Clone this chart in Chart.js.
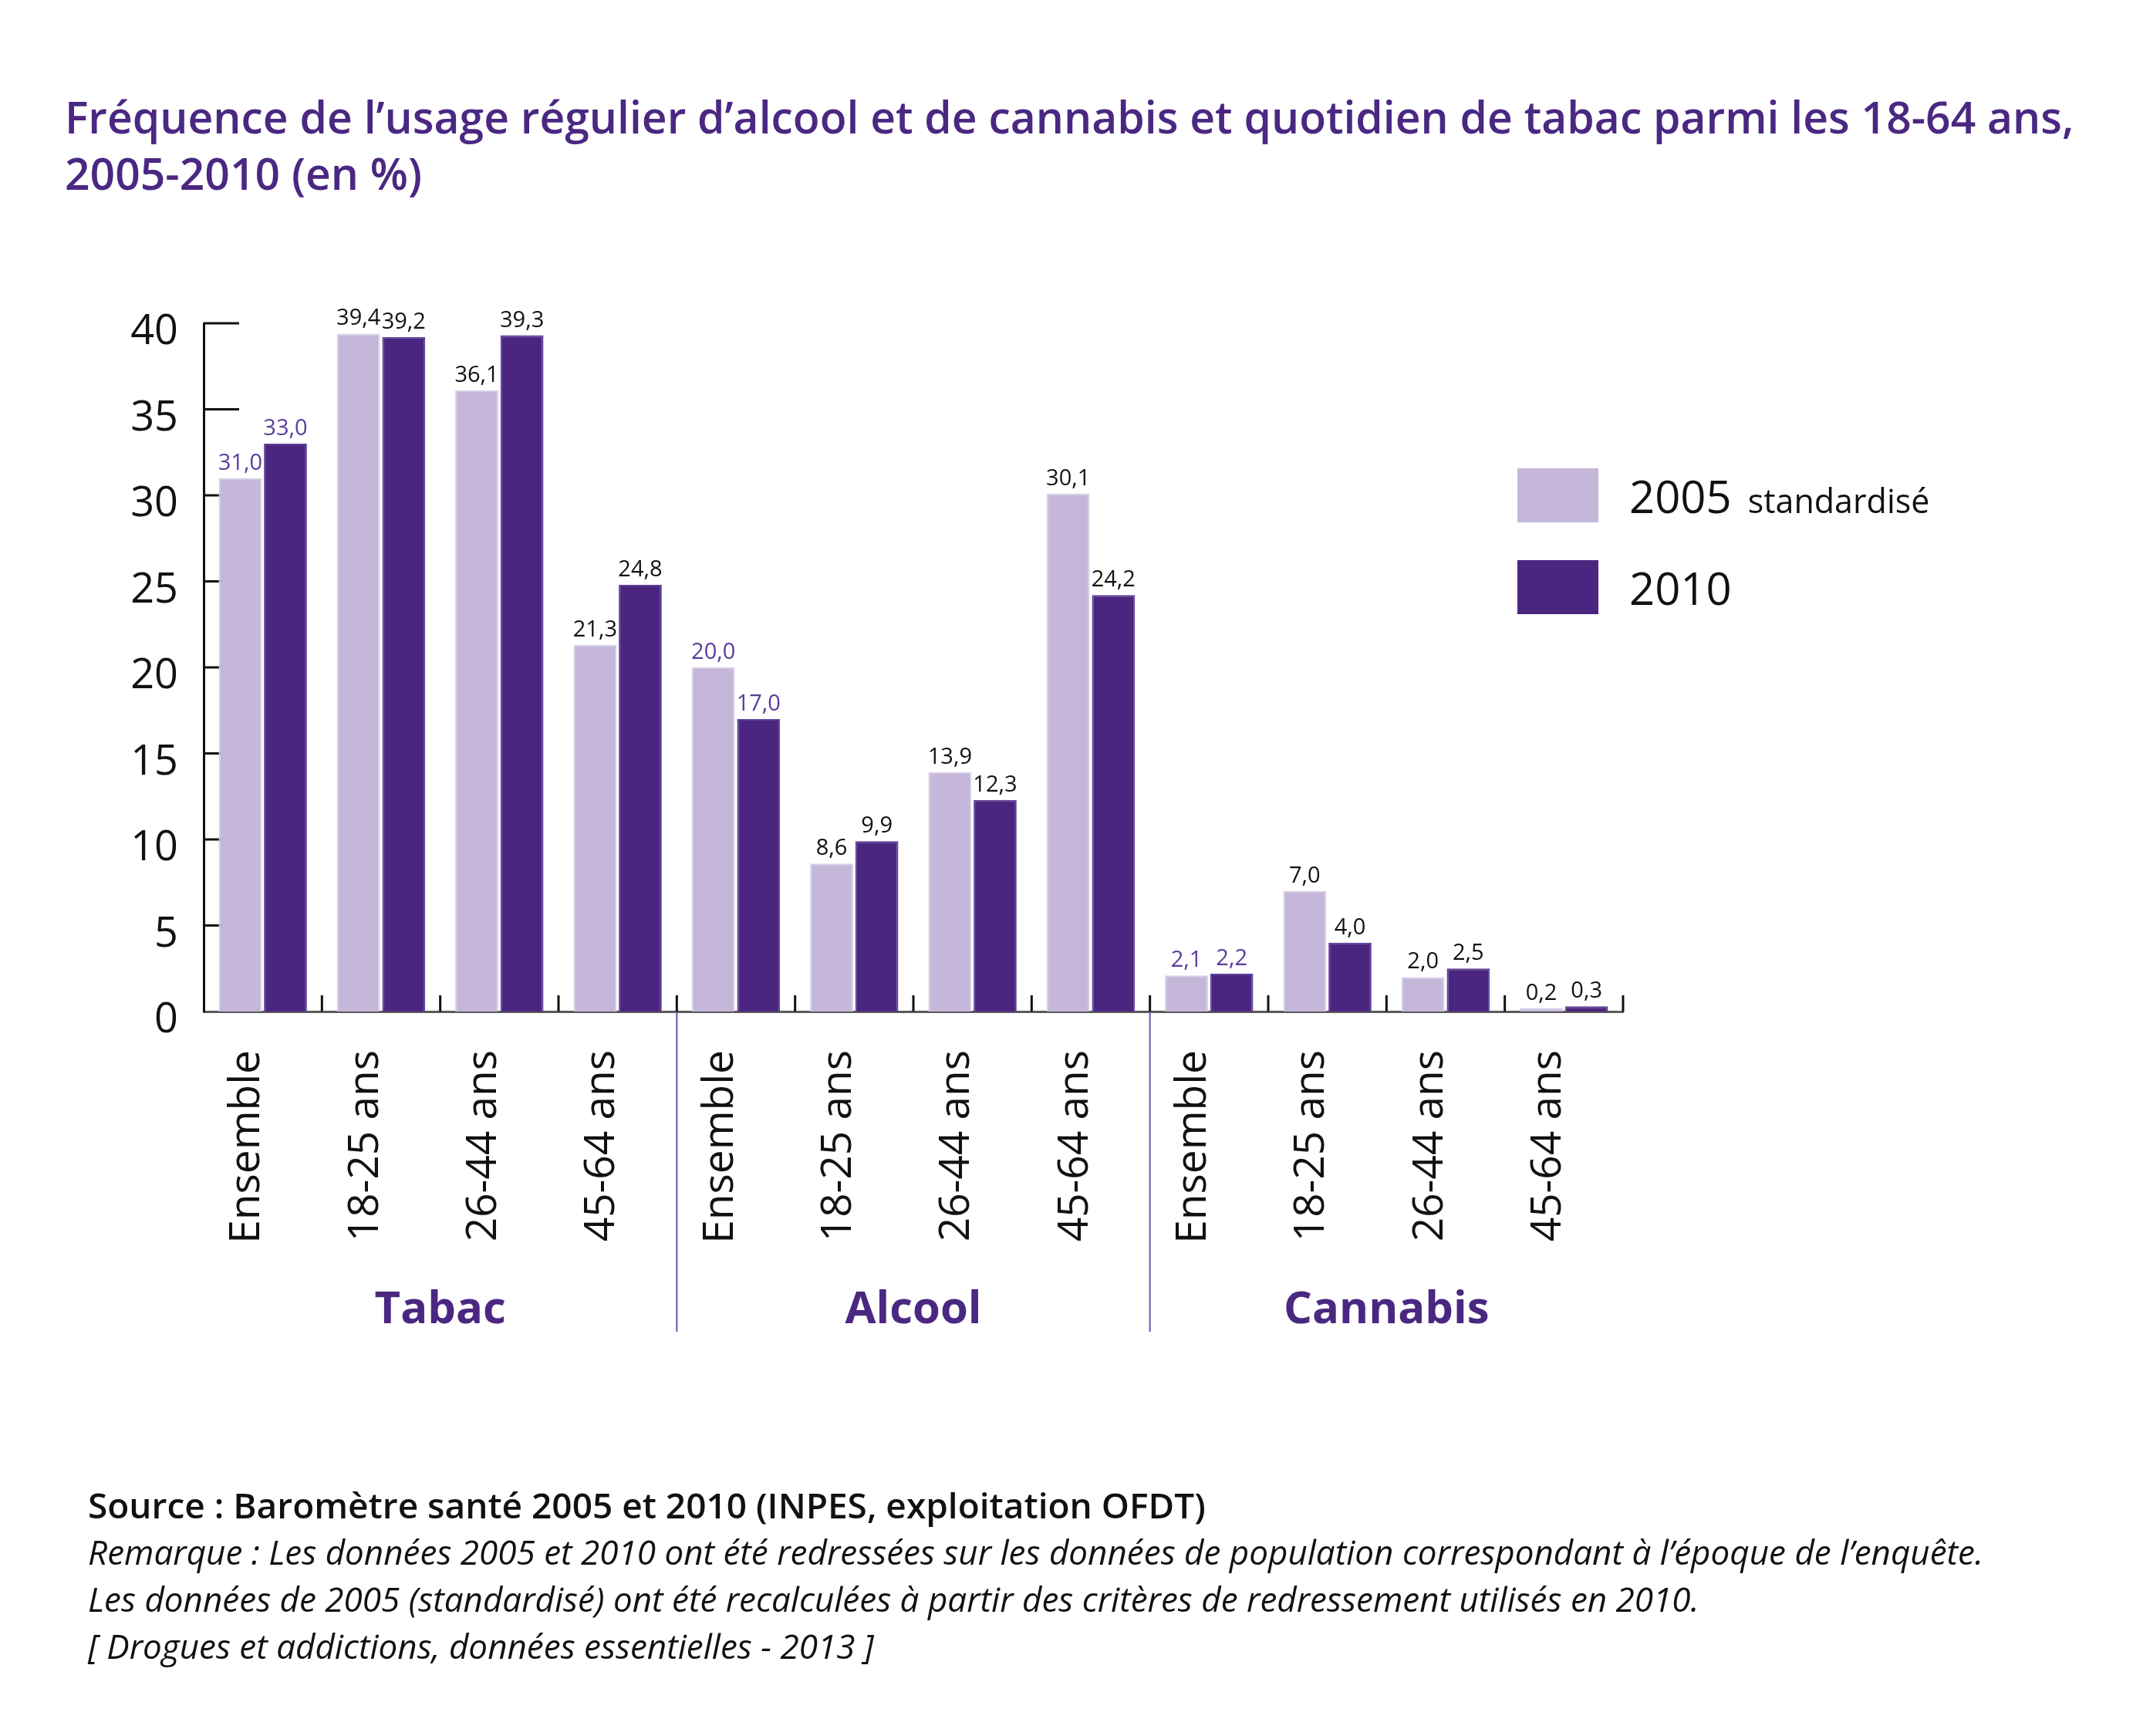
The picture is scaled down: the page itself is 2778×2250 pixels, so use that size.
<!DOCTYPE html>
<html lang="fr">
<head>
<meta charset="utf-8">
<title>Fréquence de l’usage régulier d’alcool et de cannabis et quotidien de tabac</title>
<script src="https://cdn.jsdelivr.net/npm/chart.js@4.4.1/dist/chart.umd.min.js"></script>
<style>
  html, body { margin: 0; padding: 0; background: #fff; }
  #page { position: relative; width: 2778px; height: 2250px; overflow: hidden; font-family: "Open Sans", sans-serif; }
  #chart { position: absolute; left: 0; top: 0; }
  .title { position: absolute; left: 84px; top: 115px; margin: 0; color: #4a2882; font-size: 57px; font-weight: 600; line-height: 73px; white-space: nowrap; }
  .notes { position: absolute; left: 114px; top: 1920px; font-size: 44px; line-height: 61px; color: #111; white-space: nowrap; }
  .notes .src { font-weight: 600; font-size: 46px; }
  .notes .rem { font-style: italic; }
</style>
</head>
<body>
<div id="page">
  <canvas id="chart" width="2778" height="2250"></canvas>
  <h1 class="title">Fréquence de l’usage régulier d’alcool et de cannabis et quotidien de tabac parmi les 18-64 ans,<br>2005-2010 (en %)</h1>
  <div class="notes">
    <div class="src">Source : Baromètre santé 2005 et 2010 (INPES, exploitation OFDT)</div>
    <div class="rem">Remarque : Les données 2005 et 2010 ont été redressées sur les données de population correspondant à l’époque de l’enquête.</div>
    <div class="rem">Les données de 2005 (standardisé) ont été recalculées à partir des critères de redressement utilisés en 2010.</div>
    <div class="rem">[ Drogues et addictions, données essentielles - 2013 ]</div>
  </div>
</div>
<script>
  // Values (in %)
  const categories = ['Ensemble', '18-25 ans', '26-44 ans', '45-64 ans',
    'Ensemble', '18-25 ans', '26-44 ans', '45-64 ans',
    'Ensemble', '18-25 ans', '26-44 ans', '45-64 ans'];
  const groups = ['Tabac', 'Alcool', 'Cannabis'];
  const groupSize = 4;
  const series2005 = [31.0, 39.4, 36.1, 21.3, 20.0, 8.6, 13.9, 30.1, 2.1, 7.0, 2.0, 0.2];
  const series2010 = [33.0, 39.2, 39.3, 24.8, 17.0, 9.9, 12.3, 24.2, 2.2, 4.0, 2.5, 0.3];
  const seriesNames = ['2005', '2010'];
  const seriesNotes = ['standardisé', ''];
  const yTicks = [0, 5, 10, 15, 20, 25, 30, 35, 40];

  const LIGHT = '#c4b7d9';
  const DARK = '#4a2680';
  const PURPLE = '#4a2882';
  const LABEL_PURPLE = '#5a3c9a';
  const FONT = '"Open Sans", sans-serif';

  const fmt = v => v.toFixed(1).replace('.', ',');

  const chartInk = {
    id: 'chartInk',
    // inward y ticks, drawn behind the bars
    beforeDatasetsDraw(chart) {
      const { ctx, chartArea, scales: { y } } = chart;
      ctx.save();
      ctx.strokeStyle = '#111';
      ctx.lineWidth = 3;
      y.ticks.forEach(t => {
        if (t.value === 0) return;
        const py = y.getPixelForValue(t.value);
        ctx.beginPath();
        ctx.moveTo(chartArea.left, py);
        ctx.lineTo(chartArea.left + 46, py);
        ctx.stroke();
      });
      ctx.restore();
    },
    afterDatasetsDraw(chart) {
      const { ctx, chartArea, scales: { x } } = chart;
      ctx.save();
      // upward ticks between categories
      ctx.strokeStyle = '#111';
      ctx.lineWidth = 3;
      for (let i = 1; i <= categories.length; i++) {
        const px = i === categories.length ? chartArea.right : x.getPixelForValue(i - 0.5);
        ctx.beginPath();
        ctx.moveTo(px, chartArea.bottom);
        ctx.lineTo(px, chartArea.bottom - 21);
        ctx.stroke();
      }
      // value labels
      ctx.font = '29px ' + FONT;
      ctx.textAlign = 'center';
      ctx.textBaseline = 'alphabetic';
      chart.data.datasets.forEach((ds, di) => {
        chart.getDatasetMeta(di).data.forEach((bar, i) => {
          ctx.fillStyle = i % groupSize === 0 ? LABEL_PURPLE : '#111';
          ctx.fillText(fmt(ds.data[i]), bar.x, bar.y - 11);
        });
      });
      ctx.restore();
    },
    afterDraw(chart) {
      const { ctx, chartArea, scales: { x } } = chart;
      ctx.save();
      // group separators and names
      ctx.strokeStyle = '#6a52a8';
      ctx.lineWidth = 2;
      for (let g = 1; g < groups.length; g++) {
        const px = x.getPixelForValue(g * groupSize - 0.5);
        ctx.beginPath();
        ctx.moveTo(px, chartArea.bottom);
        ctx.lineTo(px, 1726);
        ctx.stroke();
      }
      ctx.fillStyle = PURPLE;
      ctx.font = 'bold 58px ' + FONT;
      ctx.textAlign = 'center';
      ctx.textBaseline = 'alphabetic';
      groups.forEach((name, g) => {
        const px = x.getPixelForValue(g * groupSize + (groupSize - 1) / 2);
        ctx.fillText(name, px, 1715);
      });
      // legend
      const boxX = 1967, boxW = 105, boxH = 70, rows = [607, 726];
      ctx.textAlign = 'left';
      chart.data.datasets.forEach((ds, di) => {
        const top = rows[di];
        ctx.fillStyle = ds.backgroundColor;
        ctx.fillRect(boxX, top, boxW, boxH);
        ctx.fillStyle = '#111';
        ctx.font = '58px ' + FONT;
        ctx.fillText(seriesNames[di], 2112, top + 58);
        if (seriesNotes[di]) {
          const w = ctx.measureText(seriesNames[di] + ' ').width;
          ctx.font = '43px ' + FONT;
          ctx.fillText(seriesNotes[di], 2112 + w + 6, top + 58);
        }
      });
      ctx.restore();
    }
  };

  const config = {
    type: 'bar',
    data: {
      labels: categories,
      datasets: [
        { label: seriesNames[0] + ' ' + seriesNotes[0], data: series2005, backgroundColor: LIGHT,
          borderColor: '#d6cde6', borderWidth: 2, borderSkipped: 'bottom' },
        { label: seriesNames[1], data: series2010, backgroundColor: DARK,
          borderColor: '#5e3f98', borderWidth: 2, borderSkipped: 'bottom' }
      ]
    },
    options: {
      responsive: false,
      devicePixelRatio: 1,
      animation: false,
      layout: { padding: { top: 419, left: 0, right: 674, bottom: 539 } },
      datasets: { bar: { categoryPercentage: 0.765, barPercentage: 0.95 } },
      plugins: {
        legend: { display: false },
        title: { display: false },
        tooltip: { enabled: false }
      },
      scales: {
        x: {
          grid: { display: false, drawTicks: false },
          border: { display: true, color: '#5a5a5a', width: 3 },
          ticks: {
            autoSkip: false,
            minRotation: 90,
            maxRotation: 90,
            padding: 50,
            labelOffset: -20,
            color: '#111',
            font: { family: FONT, size: 55 }
          },
          afterFit: s => { s.height = 400; }
        },
        y: {
          min: yTicks[0],
          max: yTicks[yTicks.length - 1],
          grid: { display: false, drawTicks: false },
          border: { display: true, color: '#111', width: 3 },
          afterBuildTicks: s => { s.ticks = yTicks.map(v => ({ value: v })); },
          ticks: {
            padding: 33,
            labelOffset: 12,
            color: '#111',
            font: { family: FONT, size: 54 }
          },
          afterFit: s => { s.width = 264; }
        }
      }
    },
    plugins: [chartInk]
  };

  new Chart(document.getElementById('chart').getContext('2d'), config);
</script>
</body>
</html>
